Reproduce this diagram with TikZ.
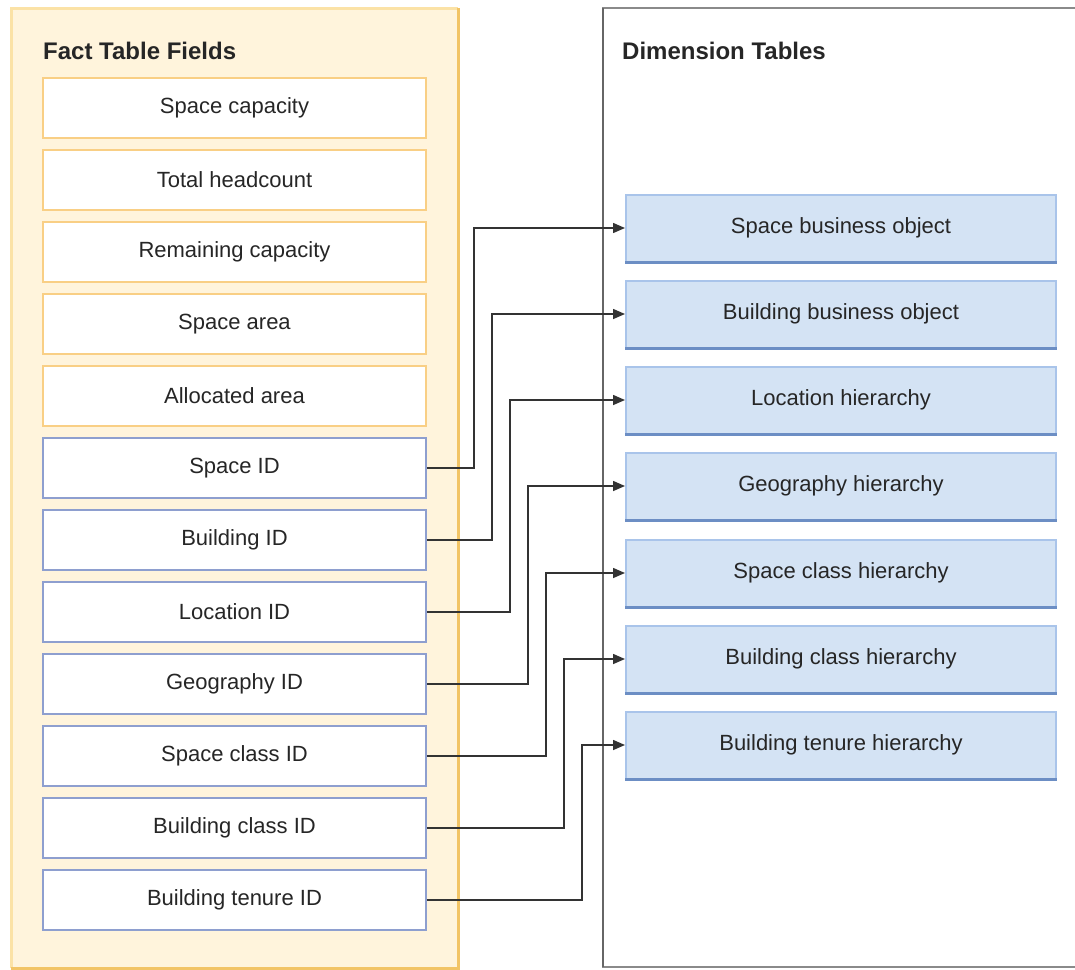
\documentclass[tikz,border=0pt]{standalone}
\usepackage{fontspec}
\setmainfont{Liberation Sans}
\usetikzlibrary{arrows.meta}
\definecolor{txt}{HTML}{262626}
\definecolor{factfill}{HTML}{FFF4DC}
\definecolor{factlight}{HTML}{FBE2A6}
\definecolor{factdark}{HTML}{F2C466}
\definecolor{measureline}{HTML}{F9CF85}
\definecolor{keyline}{HTML}{8E9FCF}
\definecolor{dimfill}{HTML}{D4E3F4}
\definecolor{dimline}{HTML}{A9C4EA}
\definecolor{dimdark}{HTML}{6C8EC4}
\definecolor{frame}{HTML}{8A8A8A}
\definecolor{frameleft}{HTML}{666666}
\definecolor{wire}{HTML}{333333}
\tikzset{
  fieldbox/.style={draw, line width=1.6pt, fill=white, minimum width=383pt,
    minimum height=60pt, inner sep=0pt, text=txt, font=\fontsize{22}{26}\selectfont},
  measure/.style={fieldbox, draw=measureline},
  keyfield/.style={fieldbox, draw=keyline},
  dimbox/.style={draw=dimline, line width=2pt, fill=dimfill, minimum width=430pt,
    minimum height=67pt, inner sep=0pt, text=txt, font=\fontsize{22}{26}\selectfont},
  paneltitle/.style={anchor=west, inner sep=0pt, text=txt, font=\fontsize{24}{28}\selectfont\bfseries},
  conn/.style={draw=wire, line width=1.5pt, -{Triangle[length=12pt,width=10pt]}}
}
\begin{document}
\begin{tikzpicture}[x=1pt,y=-1pt]
\useasboundingbox (0,0) rectangle (1075,969);

% fact table panel with bevelled edges
\fill[factfill] (11,8) rectangle (458,968);
\draw[factlight, line width=3pt] (11,968) -- (11,8) -- (458,8);
\draw[factdark, line width=3pt] (458,8) -- (458,968) -- (11,968);
\node[paneltitle] (facttitle) at (43,51) {Fact Table Fields};

% dimension table panel
\draw[frame, line width=1.5pt] (1076,8) -- (603,8) -- (603,967) -- (1076,967);
\draw[frameleft, line width=1.5pt] (603,8) -- (603,967);
\node[paneltitle] (dimtitle) at (622,51) {Dimension Tables};

% measures
\node[measure] (scap) at (234.5,108) {Space capacity};
\node[measure] (thead) at (234.5,180) {Total headcount};
\node[measure] (rcap) at (234.5,252) {Remaining capacity};
\node[measure] (sarea) at (234.5,324) {Space area};
\node[measure] (aarea) at (234.5,396) {Allocated area};

% foreign keys
\node[keyfield] (sid) at (234.5,468) {Space ID};
\node[keyfield] (bid) at (234.5,540) {Building ID};
\node[keyfield] (lid) at (234.5,612) {Location ID};
\node[keyfield] (gid) at (234.5,684) {Geography ID};
\node[keyfield] (scid) at (234.5,756) {Space class ID};
\node[keyfield] (bcid) at (234.5,828) {Building class ID};
\node[keyfield] (btid) at (234.5,900) {Building tenure ID};

% dimension tables
\foreach \n/\y/\t in {sbo/228/Space business object,
                      bbo/314/Building business object,
                      loch/400/Location hierarchy,
                      geoh/486/Geography hierarchy,
                      sch/573/Space class hierarchy,
                      bch/659/Building class hierarchy,
                      bth/745/Building tenure hierarchy}{
  \node[dimbox] (\n) at (841,\y) {\t};
  \draw[dimdark, line width=2.5pt] (\n.south west) -- (\n.south east);
}

% key to dimension connectors
\draw[conn] (sid.east) -- ([xshift=47pt]sid.east) |- (sbo.west);
\draw[conn] (bid.east) -- ([xshift=65pt]bid.east) |- (bbo.west);
\draw[conn] (lid.east) -- ([xshift=83pt]lid.east) |- (loch.west);
\draw[conn] (gid.east) -- ([xshift=101pt]gid.east) |- (geoh.west);
\draw[conn] (scid.east) -- ([xshift=119pt]scid.east) |- (sch.west);
\draw[conn] (bcid.east) -- ([xshift=137pt]bcid.east) |- (bch.west);
\draw[conn] (btid.east) -- ([xshift=155pt]btid.east) |- (bth.west);
\end{tikzpicture}
\end{document}
